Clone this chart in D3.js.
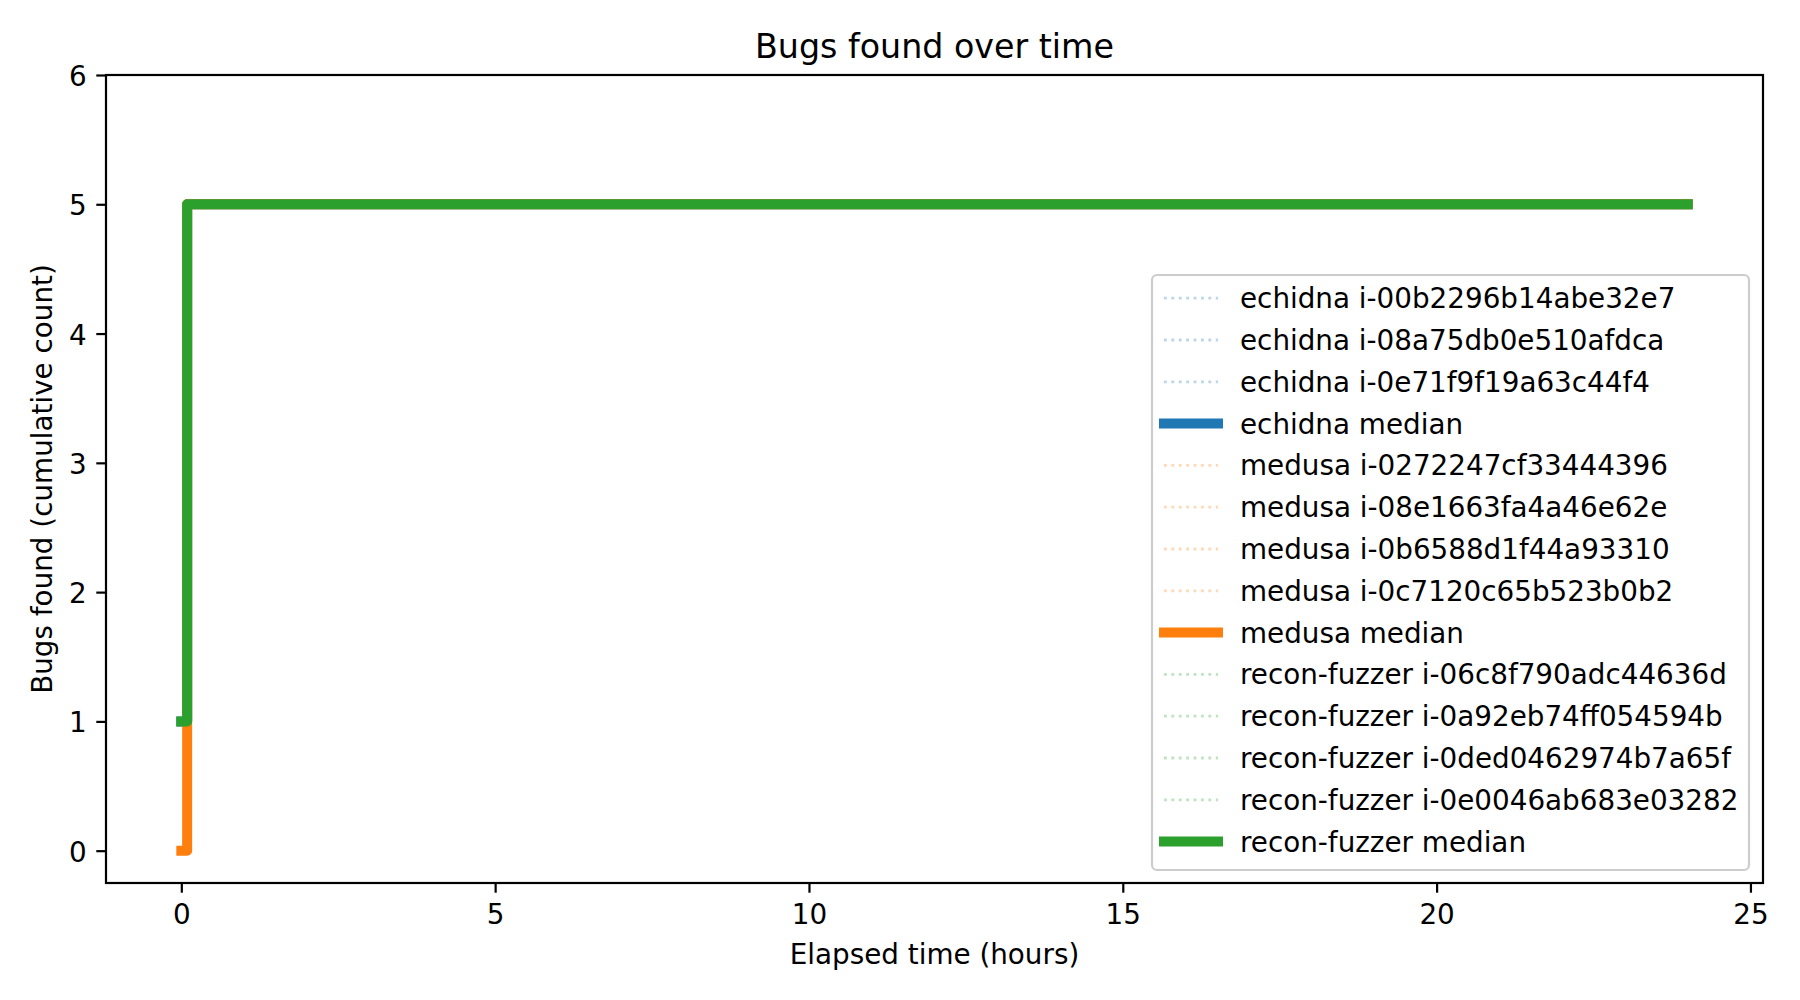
<!DOCTYPE html>
<html>
<head>
<meta charset="utf-8">
<script src="https://cdn.jsdelivr.net/npm/d3@7"></script>
<style>
  body { margin: 0; background: #fff; }
  svg { display: block; font-family: "DejaVu Sans", sans-serif; }
</style>
</head>
<body>
<div id="chart"></div>
<script>
// Fuzzers and their instance ids
const fuzzers = ["echidna", "medusa", "recon-fuzzer"];
const echidnaIds = ["i-00b2296b14abe32e7", "i-08a75db0e510afdca", "i-0e71f9f19a63c44f4"];
const medusaIds = ["i-0272247cf33444396", "i-08e1663fa4a46e62e", "i-0b6588d1f44a93310", "i-0c7120c65b523b0b2"];
const reconIds = ["i-06c8f790adc44636d", "i-0a92eb74ff054594b", "i-0ded0462974b7a65f", "i-0e0046ab683e03282"];

// Per-run step data (hours, cumulative bugs)
const echidnaRunTimes = [[0, 0.055, 24], [0, 0.06, 24], [0, 0.065, 24]];
const echidnaRunCounts = [[1, 5, 5], [1, 5, 5], [1, 5, 5]];
const medusaRunTimes = [[0, 0.05, 24], [0, 0.055, 24], [0, 0.06, 24], [0, 0.065, 24]];
const medusaRunCounts = [[0, 5, 5], [0, 5, 5], [0, 5, 5], [0, 5, 5]];
const reconRunTimes = [[0, 0.05, 24], [0, 0.055, 24], [0, 0.06, 24], [0, 0.065, 24]];
const reconRunCounts = [[1, 5, 5], [1, 5, 5], [1, 5, 5], [1, 5, 5]];

// Medians
const medianTimes = [0, 0.093, 24];
const echidnaMedian = [1, 5, 5];
const medusaMedian = [0, 5, 5];
const reconMedian = [1, 5, 5];

const xTicks = [0, 5, 10, 15, 20, 25];
const yTicks = [0, 1, 2, 3, 4, 5, 6];

const COLORS = ["#1f77b4", "#ff7f0e", "#2ca02c"];
const width = 1800, height = 1000;
const axLeft = 106, axRight = 1763, axTop = 75, axBottom = 883;
const FS = 27.8; // 10pt at 200 dpi
const TICK = 9.7;

const svg = d3.select("#chart").append("svg")
  .attr("width", width).attr("height", height);

const x = d3.scaleLinear().domain([-1.2, 25.2]).range([axLeft, axRight]);
const y = d3.scaleLinear().domain([-0.25, 6]).range([axBottom, axTop]);

const line = d3.line().curve(d3.curveStepAfter)
  .x(d => x(d[0])).y(d => y(d[1]));

const zip = (ts, ns) => ts.map((t, i) => [t, ns[i]]);

// build series in plotting order
const series = [];
const groups = [
  { ids: echidnaIds, times: echidnaRunTimes, counts: echidnaRunCounts, median: echidnaMedian },
  { ids: medusaIds, times: medusaRunTimes, counts: medusaRunCounts, median: medusaMedian },
  { ids: reconIds, times: reconRunTimes, counts: reconRunCounts, median: reconMedian }
];
groups.forEach((g, gi) => {
  g.ids.forEach((id, ri) => {
    series.push({ label: `${fuzzers[gi]} ${id}`, color: COLORS[gi], median: false,
      pts: zip(g.times[ri], g.counts[ri]) });
  });
  series.push({ label: `${fuzzers[gi]} median`, color: COLORS[gi], median: true,
    pts: zip(medianTimes, g.median) });
});

const plot = svg.append("g");
plot.selectAll("path")
  .data(series)
  .enter()
  .append("path")
  .attr("d", d => line(d.pts))
  .attr("fill", "none")
  .attr("stroke", d => d.color)
  .attr("stroke-opacity", d => d.median ? 1 : 0.3)
  .attr("stroke-width", d => d.median ? 10 : 2.8)
  .attr("stroke-dasharray", d => d.median ? null : "2.8,4.6")
  .attr("stroke-linejoin", "round")
  .attr("stroke-linecap", d => d.median ? "square" : "butt");

// axes
const xAxis = svg.append("g")
  .attr("transform", `translate(0,${axBottom})`)
  .call(d3.axisBottom(x).tickValues(xTicks).tickSize(TICK).tickPadding(11.6)
    .tickSizeOuter(0).tickFormat(d3.format("d")));
const yAxis = svg.append("g")
  .attr("transform", `translate(${axLeft},0)`)
  .call(d3.axisLeft(y).tickValues(yTicks).tickSize(TICK).tickPadding(9.7)
    .tickSizeOuter(0).tickFormat(d3.format("d")));

[xAxis, yAxis].forEach(a => {
  a.select(".domain").remove();
  a.selectAll(".tick line").attr("stroke", "#000").attr("stroke-width", 2.2);
  a.selectAll(".tick text").attr("fill", "#000")
    .style("font-size", FS + "px").style("font-family", "DejaVu Sans");
});
yAxis.selectAll(".tick text").attr("dy", "0.38em");

// frame
svg.append("rect")
  .attr("x", axLeft).attr("y", axTop)
  .attr("width", axRight - axLeft).attr("height", axBottom - axTop)
  .attr("fill", "none").attr("stroke", "#000").attr("stroke-width", 2.2);

// title and labels
svg.append("text")
  .attr("x", (axLeft + axRight) / 2).attr("y", 58)
  .attr("text-anchor", "middle")
  .style("font-size", "33.3px")
  .text("Bugs found over time");

svg.append("text")
  .attr("x", (axLeft + axRight) / 2).attr("y", 964)
  .attr("text-anchor", "middle")
  .style("font-size", FS + "px")
  .text("Elapsed time (hours)");

svg.append("text")
  .attr("transform", `translate(52,${(axTop + axBottom) / 2}) rotate(-90)`)
  .attr("text-anchor", "middle")
  .style("font-size", FS + "px")
  .text("Bugs found (cumulative count)");

// legend
const legend = svg.append("g");
legend.append("rect")
  .attr("x", 1152).attr("y", 275)
  .attr("width", 1749 - 1152).attr("height", 870 - 275)
  .attr("rx", 5).attr("ry", 5)
  .attr("fill", "#fff").attr("fill-opacity", 0.8)
  .attr("stroke", "#cccccc").attr("stroke-width", 2.2);

const rows = legend.selectAll("g.row")
  .data(series)
  .enter()
  .append("g")
  .attr("class", "row")
  .attr("transform", (d, i) => `translate(0,${298.2 + i * 41.8})`);

rows.append("line")
  .attr("x1", 1164).attr("x2", 1218)
  .attr("stroke", d => d.color)
  .attr("stroke-opacity", d => d.median ? 1 : 0.3)
  .attr("stroke-width", d => d.median ? 10 : 2.8)
  .attr("stroke-dasharray", d => d.median ? null : "2.8,4.6")
  .attr("stroke-linecap", d => d.median ? "square" : "butt");

rows.append("text")
  .attr("x", 1240).attr("y", 10)
  .style("font-size", FS + "px")
  .text(d => d.label);
</script>
</body>
</html>
